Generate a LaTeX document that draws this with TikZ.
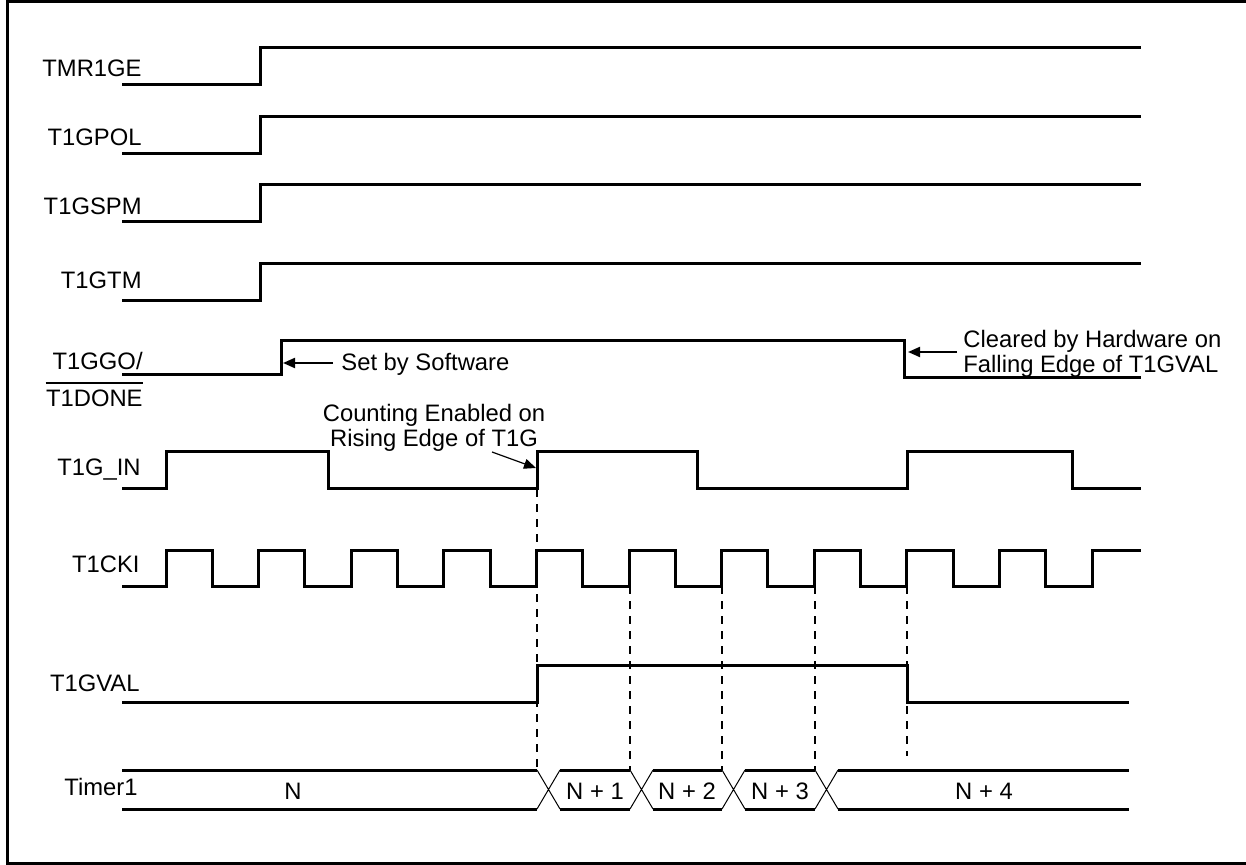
\documentclass[tikz,border=0pt]{standalone}
\usepackage{fontspec}
\setmainfont{Liberation Sans}
\usetikzlibrary{arrows.meta}

\begin{document}
\begin{tikzpicture}[
  x=0.5pt, y=-0.5pt,
  font=\fontsize{11.9}{12.5}\selectfont,
  sig/.style={line width=1.5pt},
  xing/.style={line width=0.5pt},
  guide/.style={line width=1.2pt, dash pattern=on 4pt off 3.5pt},
  lbl/.style={inner sep=0pt, anchor=base east},
  note/.style={inner sep=0pt},
  arr/.style={-{Triangle[length=6pt,width=5pt]}, line width=1pt}
]
\useasboundingbox (0,0) rectangle (1246,865);
\draw[sig] (7,1.5) rectangle (1250,863.5);
% signal names
\node[lbl] (lge) at (142,77) {TMR1GE};
\node[lbl] (lpol) at (142,146) {T1GPOL};
\node[lbl] (lspm) at (142,215) {T1GSPM};
\node[lbl] (ltm) at (142,289) {T1GTM};
\node[lbl] (lggo) at (143,370) {T1GGO/};
\node[lbl] (ldone) at (143,407) {T1DONE};
\draw[line width=1pt] ([yshift=3.5pt]ldone.north west) -- ([yshift=3.5pt]ldone.north east);
\node[lbl] (lin) at (141,475) {T1G\_IN};
\node[lbl] (lcki) at (140,572) {T1CKI};
\node[lbl] (lval) at (140,691) {T1GVAL};
\node[lbl] (ltmr) at (138,795) {Timer1};
% waveforms
\draw[sig] (122,85) -- (260,85) -- (260,48) -- (1141,48);
\draw[sig] (122,154) -- (260,154) -- (260,117) -- (1141,117);
\draw[sig] (122,222) -- (260,222) -- (260,185) -- (1141,185);
\draw[sig] (122,301) -- (260,301) -- (260,264) -- (1141,264);
\draw[sig] (122,375) -- (281,375) -- (281,341) -- (904,341) -- (904,378) -- (1141,378);
\draw[sig] (122,488) -- (166,488) -- (166,452) -- (328,452) -- (328,488) -- (537,488) -- (537,452)
  -- (697,452) -- (697,488) -- (907,488) -- (907,452) -- (1072,452) -- (1072,488) -- (1141,488);
\draw[sig] (122,586) foreach \k in {0,...,9} {
  -- ({166+92.6*\k},586) -- ({166+92.6*\k},550) -- ({212.3+92.6*\k},550) -- ({212.3+92.6*\k},586) }
  -- (1092,586) -- (1092,550) -- (1141,550);
\draw[sig] (122,702) -- (537,702) -- (537,665) -- (907,665) -- (907,702) -- (1129,702);
% Timer1 bus
\draw[sig] (122,770) -- (537,770) (122,809) -- (537,809);
\draw[sig] (560,770) -- (630,770) (560,809) -- (630,809);
\draw[sig] (653,770) -- (722,770) (653,809) -- (722,809);
\draw[sig] (745,770) -- (815,770) (745,809) -- (815,809);
\draw[sig] (838,770) -- (1129,770) (838,809) -- (1129,809);
\draw[xing] (537,770) -- (560,809) (537,809) -- (560,770);
\draw[xing] (630,770) -- (653,809) (630,809) -- (653,770);
\draw[xing] (722,770) -- (745,809) (722,809) -- (745,770);
\draw[xing] (815,770) -- (838,809) (815,809) -- (838,770);
\node[note, anchor=base] (cn) at (293,799) {N};
\node[note, anchor=base] (cn1) at (595,799) {N + 1};
\node[note, anchor=base] (cn2) at (687,799) {N + 2};
\node[note, anchor=base] (cn3) at (780,799) {N + 3};
\node[note, anchor=base] (cn4) at (984,799) {N + 4};
% dashed guides
\draw[guide] (537,489) -- (537,770);
\draw[guide] (630,586) -- (630,770);
\draw[guide] (722,586) -- (722,770);
\draw[guide] (815,586) -- (815,770);
\draw[guide] (907,586) -- (907,756);
% notes
\node[note, anchor=base west] (sw) at (341,371) {Set by Software};
\coordinate (swtip) at (283,363);
\draw[arr] ([xshift=-4pt]sw.west |- swtip) -- (swtip);
\node[note, anchor=north west, align=left] (hw) at (963,330) {Cleared by Hardware on\\Falling Edge of T1GVAL};
\coordinate (hwtip) at (908,352);
\draw[arr] ([xshift=-3pt]hw.west |- hwtip) -- (hwtip);
\node[note, anchor=north, align=center] (en) at (434,404) {Counting Enabled on\\Rising Edge of T1G};
\coordinate (entip) at (536,468);
\draw[arr, line width=0.6pt] ([xshift=29pt]en.south) -- (entip);
\end{tikzpicture}
\end{document}
